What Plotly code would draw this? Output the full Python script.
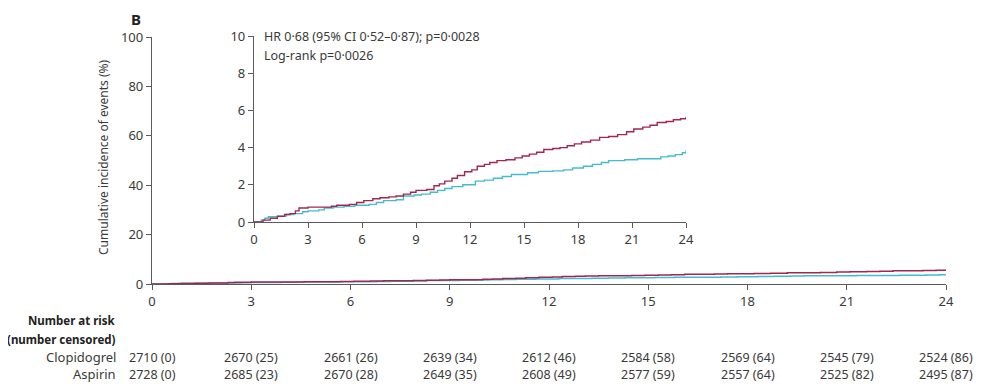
import plotly.graph_objects as go

# ---- data (months, cumulative incidence %) ----
aspirin_t = [0, 0.5, 0.9, 1.3, 1.7, 2.0, 2.3, 2.5, 3.0, 4.3, 4.6, 5.3, 5.7, 6.1, 6.6,
             7.0, 7.5, 7.9, 8.3, 8.7, 9.0, 9.6, 10.0, 10.3, 10.6, 11.0, 11.3, 11.7, 12.1, 12.4,
             12.8, 13.1, 13.5, 14.0, 14.5, 14.9, 15.3, 15.7, 16.1, 16.6, 17.0, 17.4, 17.8, 18.2, 18.7,
             19.2, 19.7, 20.2, 20.7, 21.1, 21.6, 22.0, 22.4, 22.9, 23.3, 23.7, 24.0]
aspirin_v = [0, 0.1, 0.2, 0.3, 0.4, 0.45, 0.6, 0.75, 0.8, 0.85, 0.9, 0.95, 1.05, 1.15, 1.25,
             1.3, 1.35, 1.4, 1.5, 1.6, 1.7, 1.75, 1.95, 2.05, 2.2, 2.35, 2.5, 2.7, 2.8, 3.0,
             3.1, 3.2, 3.3, 3.35, 3.45, 3.55, 3.65, 3.75, 3.9, 3.95, 4.0, 4.1, 4.2, 4.3, 4.4,
             4.55, 4.6, 4.7, 4.85, 5.0, 5.1, 5.2, 5.35, 5.4, 5.5, 5.55, 5.65]

clopidogrel_t = [0, 0.4, 0.6, 0.8, 1.3, 1.8, 2.2, 2.7, 3.0, 3.6, 3.9, 4.4, 5.0, 5.6, 6.4,
                 6.8, 7.2, 7.9, 8.3, 8.9, 9.3, 9.8, 10.2, 10.6, 11.0, 11.6, 12.3, 12.8, 13.3, 13.8,
                 14.3, 15.2, 15.8, 16.6, 17.2, 17.7, 18.3, 18.8, 19.3, 19.7, 20.6, 21.3, 22.6, 23.0, 23.4,
                 23.8, 24.0]
clopidogrel_v = [0, 0.1, 0.2, 0.28, 0.32, 0.4, 0.45, 0.55, 0.6, 0.65, 0.75, 0.8, 0.85, 0.9, 0.95,
                 1.05, 1.15, 1.2, 1.4, 1.45, 1.5, 1.6, 1.7, 1.8, 1.9, 2.0, 2.2, 2.25, 2.35, 2.45,
                 2.55, 2.65, 2.72, 2.75, 2.8, 2.9, 3.0, 3.1, 3.2, 3.3, 3.35, 3.4, 3.5, 3.55, 3.62,
                 3.72, 3.86]

risk_months = [0, 3, 6, 9, 12, 15, 18, 21, 24]
clopidogrel_risk = ["2710 (0)", "2670 (25)", "2661 (26)", "2639 (34)", "2612 (46)",
                    "2584 (58)", "2569 (64)", "2545 (79)", "2524 (86)"]
aspirin_risk = ["2728 (0)", "2685 (23)", "2670 (28)", "2649 (35)", "2608 (49)",
                "2577 (59)", "2557 (64)", "2525 (82)", "2495 (87)"]

RED = "#a3264f"
CYAN = "#42bdd0"
TXT = "#3a3a3a"
AX = "#5a5a5a"
FONT = "Noto Sans"

# page is 989x388; the html body has an 8px margin, so the figure starts at (8, 8)
PW, PH, OFF = 989, 388, 8
W, H = PW - OFF, PH - OFF
def px(x): return (x - OFF) / W      # page pixel x -> paper fraction
def py(y): return (PH - y) / H       # page pixel y -> paper fraction

fig = go.Figure()
# main plot
fig.add_trace(go.Scatter(x=clopidogrel_t, y=clopidogrel_v, mode="lines", line_shape="hv",
                         line=dict(color=CYAN, width=1.5), xaxis="x", yaxis="y", showlegend=False))
fig.add_trace(go.Scatter(x=aspirin_t, y=aspirin_v, mode="lines", line_shape="hv",
                         line=dict(color=RED, width=1.5), xaxis="x", yaxis="y", showlegend=False))
# inset
fig.add_trace(go.Scatter(x=clopidogrel_t, y=clopidogrel_v, mode="lines", line_shape="hv",
                         line=dict(color=CYAN, width=1.4), xaxis="x2", yaxis="y2", showlegend=False))
fig.add_trace(go.Scatter(x=aspirin_t, y=aspirin_v, mode="lines", line_shape="hv",
                         line=dict(color=RED, width=1.4), xaxis="x2", yaxis="y2", showlegend=False))

axis_common = dict(showgrid=False, zeroline=False, showline=True, linecolor=AX, linewidth=1.3,
                   ticks="outside", ticklen=5, tickwidth=1.3, tickcolor=AX, automargin=False,
                   tickfont=dict(family=FONT, size=13, color=TXT))

fig.update_layout(
    width=W, height=H, margin=dict(l=0, r=0, t=0, b=0, autoexpand=False),
    paper_bgcolor="white", plot_bgcolor="rgba(0,0,0,0)",
    xaxis=dict(domain=[px(152), px(946)], range=[0, 24], tickvals=risk_months,
               anchor="y", **axis_common),
    yaxis=dict(domain=[py(284), py(37)], range=[0, 100], tickvals=[0, 20, 40, 60, 80, 100],
               anchor="x", **axis_common),
    xaxis2=dict(domain=[px(254), px(686)], range=[0, 24], tickvals=risk_months,
                anchor="y2", **axis_common),
    yaxis2=dict(domain=[py(222), py(36)], range=[0, 10], tickvals=[0, 2, 4, 6, 8, 10],
                anchor="x2", **axis_common),
)

ann = []
ann.append(dict(x=px(130), y=1.0, xref="paper", yref="paper", text="<b>B</b>",
                showarrow=False, xanchor="left", yanchor="top", borderpad=0,
                font=dict(family=FONT, size=15, color="#222")))
ann.append(dict(x=px(103), y=py(157), xref="paper", yref="paper",
                text="Cumulative incidence of events (%)", textangle=-90,
                showarrow=False, xanchor="center", yanchor="middle",
                font=dict(family=FONT, size=12, color=TXT)))
ann.append(dict(x=px(262), y=py(36), xref="paper", yref="paper",
                text="HR 0·68 (95% CI 0·52–0·87); p=0·0028",
                showarrow=False, xanchor="left", yanchor="middle",
                font=dict(family=FONT, size=12.5, color=TXT)))
ann.append(dict(x=px(262), y=py(55), xref="paper", yref="paper",
                text="Log-rank p=0·0026",
                showarrow=False, xanchor="left", yanchor="middle",
                font=dict(family=FONT, size=12.5, color=TXT)))
ann.append(dict(x=px(118), y=py(320), xref="paper", yref="paper",
                text="<b>Number at risk</b>", showarrow=False, xanchor="right", yanchor="middle",
                font=dict(family=FONT, size=11.5, color="#222")))
ann.append(dict(x=px(118), y=py(339), xref="paper", yref="paper",
                text="<b>(number censored)</b>", showarrow=False, xanchor="right", yanchor="middle",
                font=dict(family=FONT, size=11.5, color="#222")))
ann.append(dict(x=px(118), y=py(357), xref="paper", yref="paper",
                text="Clopidogrel", showarrow=False, xanchor="right", yanchor="middle",
                font=dict(family=FONT, size=13, color=TXT)))
ann.append(dict(x=px(118), y=py(374), xref="paper", yref="paper",
                text="Aspirin", showarrow=False, xanchor="right", yanchor="middle",
                font=dict(family=FONT, size=13, color=TXT)))
for m, c, a in zip(risk_months, clopidogrel_risk, aspirin_risk):
    ann.append(dict(x=m, y=py(357), xref="x", yref="paper", text=c, showarrow=False,
                    xanchor="center", yanchor="middle",
                    font=dict(family=FONT, size=12.5, color=TXT)))
    ann.append(dict(x=m, y=py(374), xref="x", yref="paper", text=a, showarrow=False,
                    xanchor="center", yanchor="middle",
                    font=dict(family=FONT, size=12.5, color=TXT)))
fig.update_layout(annotations=ann)

fig.write_html("out.html")
